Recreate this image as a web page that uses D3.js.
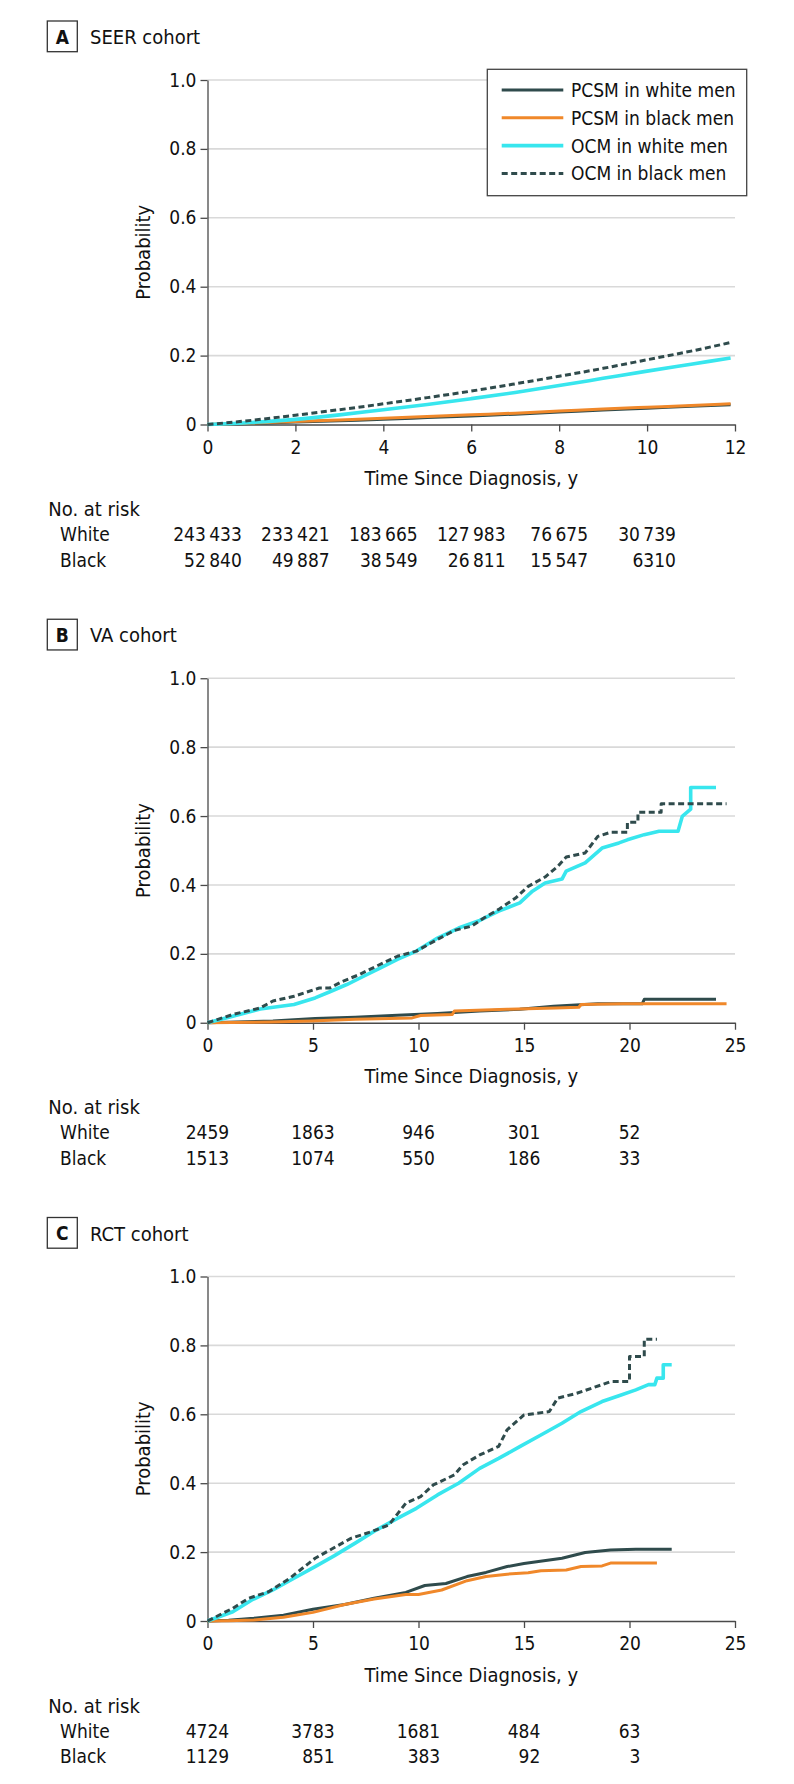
<!DOCTYPE html>
<html>
<head>
<meta charset="utf-8">
<script src="https://cdn.jsdelivr.net/npm/d3@7"></script>
<style>
  body { margin: 0; background: #fff; }
  svg text { font-family: "DejaVu Sans Condensed", "DejaVu Sans", sans-serif; font-stretch: condensed; fill: #111; }
</style>
</head>
<body>
<div id="chart"></div>
<script>
// series names / legend
const seriesNames = ["PCSM in white men", "PCSM in black men", "OCM in white men", "OCM in black men"];
const seriesColors = ["#2f4b4c", "#f0882a", "#38e6ee", "#2f4b4c"];

// A: SEER cohort (years, probability)
const seerPcsmWhite = [[0,0],[1,0.003],[2,0.007],[3,0.011],[4,0.015],[5,0.02],[6,0.025],[7,0.03],[8,0.036],[9,0.042],[10,0.047],[11,0.053],[11.9,0.057]];
const seerPcsmBlack = [[0,0],[1,0.004],[2,0.009],[3,0.013],[4,0.018],[5,0.023],[6,0.028],[7,0.033],[8,0.039],[9,0.045],[10,0.05],[11,0.055],[11.9,0.06]];
const seerOcmWhite = [[0,0],[1,0.006],[2,0.015],[3,0.028],[4,0.043],[5,0.058],[6,0.075],[7,0.093],[8,0.113],[9,0.134],[10,0.155],[11,0.175],[11.9,0.193]];
const seerOcmBlack = [[0,0],[1,0.012],[2,0.027],[3,0.043],[4,0.06],[5,0.078],[6,0.097],[7,0.118],[8,0.14],[9,0.163],[10,0.188],[11,0.213],[11.9,0.238]];

// B: VA cohort
const vaPcsmWhite = [[0,0],[3.1,0.005],[5.1,0.012],[7,0.016],[9,0.022],[10.9,0.027],[12.9,0.034],[14.8,0.039],[16.4,0.048],[18.5,0.055],[20.6,0.055],[20.7,0.068],[24.1,0.068]];
const vaPcsmBlack = [[0,0],[3,0.002],[4.9,0.005],[7,0.01],[9.7,0.014],[10.1,0.021],[11.6,0.024],[11.7,0.034],[14.2,0.039],[16.5,0.043],[17.6,0.045],[17.7,0.053],[19.7,0.055],[24.6,0.055]];
const vaOcmWhite = [[0,0],[1.2,0.019],[2.5,0.04],[4.1,0.053],[5.1,0.072],[5.8,0.09],[6.6,0.111],[7.4,0.135],[8.2,0.159],[9,0.184],[9.9,0.208],[10.9,0.246],[11.9,0.275],[12.9,0.297],[13.8,0.324],[14.8,0.348],[15.4,0.382],[16,0.406],[16.8,0.417],[17,0.44],[17.9,0.464],[18.7,0.507],[19.5,0.522],[19.9,0.531],[20.7,0.546],[21.4,0.556],[22.3,0.556],[22.5,0.599],[22.9,0.62],[22.9,0.683],[24.1,0.683]];
const vaOcmBlack = [[0,0],[1.2,0.024],[2.5,0.043],[3.1,0.063],[4.1,0.077],[5,0.095],[5.3,0.101],[5.8,0.101],[6.4,0.12],[7.2,0.14],[8,0.164],[9,0.193],[9.9,0.208],[10.9,0.242],[11.7,0.268],[12.5,0.28],[13.1,0.304],[13.8,0.329],[14.6,0.362],[15.2,0.396],[16,0.423],[16.6,0.454],[17,0.481],[17.9,0.493],[18.5,0.541],[19.1,0.553],[19.9,0.553],[19.9,0.582],[20.4,0.582],[20.4,0.611],[21.5,0.611],[21.5,0.636],[24.6,0.636]];

// C: RCT cohort
const rctPcsmWhite = [[0,0],[1,0.002],[2.2,0.008],[3.6,0.017],[5,0.034],[6.5,0.048],[7.9,0.066],[9.4,0.083],[10.3,0.103],[11.3,0.109],[12.3,0.129],[13.2,0.141],[14.2,0.158],[15,0.167],[16.8,0.182],[17.9,0.199],[19.1,0.206],[20.3,0.208],[22,0.208]];
const rctPcsmBlack = [[0,0],[1,0.001],[2.2,0.003],[3.6,0.011],[5,0.025],[6.5,0.048],[7.9,0.064],[9.4,0.077],[10,0.077],[11.1,0.09],[12.3,0.117],[13.2,0.129],[14.2,0.136],[15.2,0.14],[15.8,0.146],[17,0.148],[17.7,0.158],[18.7,0.16],[19.1,0.168],[21.3,0.168]];
const rctOcmWhite = [[0,0],[1.2,0.027],[2.1,0.061],[3.1,0.09],[4.1,0.124],[5.1,0.158],[6,0.189],[7,0.226],[8,0.264],[9,0.298],[9.9,0.327],[10.9,0.366],[11.9,0.4],[12.9,0.443],[13.8,0.472],[14.8,0.506],[15.8,0.54],[16.8,0.574],[17.7,0.608],[18.7,0.637],[19.5,0.654],[20.3,0.671],[20.9,0.686],[21.2,0.686],[21.3,0.705],[21.6,0.705],[21.6,0.744],[22,0.744]];
const rctOcmBlack = [[0,0],[1.2,0.037],[1.95,0.066],[2.9,0.085],[3.9,0.124],[5.1,0.182],[5.8,0.206],[6.8,0.24],[7.8,0.26],[8.6,0.279],[9.4,0.342],[10.1,0.361],[10.7,0.395],[11.7,0.424],[12.1,0.453],[12.9,0.482],[13.8,0.507],[14.2,0.555],[15,0.598],[16.2,0.608],[16.6,0.647],[17.5,0.661],[18.7,0.686],[19.1,0.695],[20,0.695],[20,0.768],[20.7,0.768],[20.7,0.818],[21.3,0.818]];

// axes ticks
const yTicks = [0, 0.2, 0.4, 0.6, 0.8, 1.0];
const seerTicks = [0, 2, 4, 6, 8, 10, 12];
const longTicks = [0, 5, 10, 15, 20, 25];

// number at risk
const seerRiskTimes = [0, 2, 4, 6, 8, 10];
const seerRiskWhite = [243433, 233421, 183665, 127983, 76675, 30739];
const seerRiskBlack = [52840, 49887, 38549, 26811, 15547, 6310];
const vaRiskTimes = [0, 5, 10, 15, 20];
const vaRiskWhite = [2459, 1863, 946, 301, 52];
const vaRiskBlack = [1513, 1074, 550, 186, 33];
const rctRiskTimes = [0, 5, 10, 15, 20];
const rctRiskWhite = [4724, 3783, 1681, 484, 63];
const rctRiskBlack = [1129, 851, 383, 92, 3];

const panels = [
  { letter: "A", title: "SEER cohort", xMax: 12, ticks: seerTicks, smooth: true, legend: true,
    series: [seerPcsmWhite, seerPcsmBlack, seerOcmWhite, seerOcmBlack],
    riskTimes: seerRiskTimes, riskWhite: seerRiskWhite, riskBlack: seerRiskBlack },
  { letter: "B", title: "VA cohort", xMax: 25, ticks: longTicks, smooth: false, legend: false,
    series: [vaPcsmWhite, vaPcsmBlack, vaOcmWhite, vaOcmBlack],
    riskTimes: vaRiskTimes, riskWhite: vaRiskWhite, riskBlack: vaRiskBlack },
  { letter: "C", title: "RCT cohort", xMax: 25, ticks: longTicks, smooth: false, legend: false,
    series: [rctPcsmWhite, rctPcsmBlack, rctOcmWhite, rctOcmBlack],
    riskTimes: rctRiskTimes, riskWhite: rctRiskWhite, riskBlack: rctRiskBlack }
];

const width = 794, height = 1784;
const panelStep = 598.25;
const plotLeft = 207.5, plotRight = 735, plotTop = 80, plotBottom = 424.5;
const fs = 19;
const strokeW = [3, 3, 3.6, 3];
const dash = "6,3.5";

const svg = d3.select("#chart").append("svg")
  .attr("width", width)
  .attr("height", height);

const fmtRisk = n => n >= 10000 ? d3.format(",")(n).replace(/,/g, "\u2009") : String(n);
const fmtY = d => d === 0 ? "0" : d3.format(".1f")(d);

panels.forEach((p, i) => {
  const g = svg.append("g").attr("transform", `translate(0,${i * panelStep})`);

  const x = d3.scaleLinear().domain([0, p.xMax]).range([plotLeft, plotRight]);
  const y = d3.scaleLinear().domain([0, 1]).range([plotBottom, plotTop]);

  // panel letter + title
  g.append("rect")
    .attr("x", 47.3).attr("y", 21).attr("width", 30).attr("height", 30.7)
    .attr("fill", "#fff").attr("stroke", "#333").attr("stroke-width", 1.3);
  g.append("text")
    .attr("x", 62.3).attr("y", 43.5)
    .attr("text-anchor", "middle")
    .style("font-size", "19px").style("font-weight", "bold")
    .text(p.letter);
  g.append("text")
    .attr("x", 90).attr("y", 44)
    .style("font-size", "20px")
    .text(p.title);

  // gridlines
  g.append("g")
    .selectAll("line")
    .data(yTicks.filter(d => d > 0))
    .join("line")
    .attr("x1", plotLeft).attr("x2", plotRight)
    .attr("y1", d => y(d)).attr("y2", d => y(d))
    .attr("stroke", "#d9d9d9").attr("stroke-width", 1.6);

  // axes
  const yAxis = g.append("g")
    .attr("transform", `translate(${plotLeft},0)`)
    .call(d3.axisLeft(y).tickValues(yTicks).tickFormat(fmtY).tickSize(7).tickSizeOuter(0).tickPadding(4));
  const xAxis = g.append("g")
    .attr("transform", `translate(0,${plotBottom})`)
    .call(d3.axisBottom(x).tickValues(p.ticks).tickFormat(d3.format("d")).tickSize(7).tickSizeOuter(0).tickPadding(9));
  [yAxis, xAxis].forEach(a => {
    a.selectAll("path, line").attr("stroke", "#4a4a4a").attr("stroke-width", 1.3);
    a.selectAll("text").style("font-size", fs + "px").attr("fill", "#111")
      .style("font-family", "\"DejaVu Sans Condensed\", \"DejaVu Sans\", sans-serif");
  });

  // axis titles
  g.append("text")
    .attr("transform", `translate(150,${(plotTop + plotBottom) / 2}) rotate(-90)`)
    .attr("text-anchor", "middle")
    .style("font-size", "20px")
    .text("Probability");
  g.append("text")
    .attr("x", (plotLeft + plotRight) / 2).attr("y", 485)
    .attr("text-anchor", "middle")
    .style("font-size", "20px")
    .text("Time Since Diagnosis, y");

  // curves
  const line = d3.line()
    .x(d => x(d[0]))
    .y(d => y(d[1]))
    .curve(p.smooth ? d3.curveMonotoneX : d3.curveLinear);

  p.series.forEach((s, k) => {
    g.append("path")
      .datum(s)
      .attr("fill", "none")
      .attr("stroke", seriesColors[k])
      .attr("stroke-width", strokeW[k])
      .attr("stroke-dasharray", k === 3 ? dash : null)
      .attr("stroke-linejoin", "round")
      .attr("d", line);
  });

  // number at risk
  g.append("text").attr("x", 48.3).attr("y", 516).style("font-size", "20px").text("No. at risk");
  g.append("text").attr("x", 60).attr("y", 541).style("font-size", fs + "px").text("White");
  g.append("text").attr("x", 60).attr("y", 566.5).style("font-size", fs + "px").text("Black");

  const whiteText = g.append("g")
    .selectAll("text")
    .data(p.riskTimes)
    .join("text")
    .attr("x", d => x(d))
    .attr("y", 541)
    .attr("text-anchor", "middle")
    .style("font-size", fs + "px")
    .text((d, j) => fmtRisk(p.riskWhite[j]));

  const rightEdges = [];
  whiteText.each(function (d, j) {
    rightEdges[j] = x(d) + this.getComputedTextLength() / 2;
  });

  g.append("g")
    .selectAll("text")
    .data(p.riskTimes)
    .join("text")
    .attr("x", (d, j) => rightEdges[j])
    .attr("y", 566.5)
    .attr("text-anchor", "end")
    .style("font-size", fs + "px")
    .text((d, j) => fmtRisk(p.riskBlack[j]));

  // legend
  if (p.legend) {
    const lg = g.append("g");
    lg.append("rect")
      .attr("x", 487.3).attr("y", 69.3).attr("width", 259.4).attr("height", 126.4)
      .attr("fill", "#fff").attr("stroke", "#444").attr("stroke-width", 1.3);
    const rows = lg.selectAll("g")
      .data(seriesNames)
      .join("g")
      .attr("transform", (d, k) => `translate(0,${90 + k * 27.8})`);
    rows.append("line")
      .attr("x1", 501.7).attr("x2", 563.3)
      .attr("stroke", (d, k) => seriesColors[k])
      .attr("stroke-width", (d, k) => strokeW[k])
      .attr("stroke-dasharray", (d, k) => k === 3 ? dash : null);
    rows.append("text")
      .attr("x", 571).attr("y", 7)
      .style("font-size", fs + "px")
      .text(d => d);
  }
});
</script>
</body>
</html>
